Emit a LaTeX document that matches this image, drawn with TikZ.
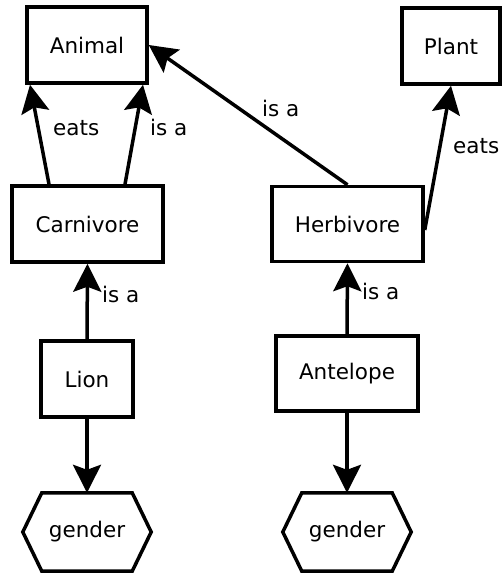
\documentclass[tikz,border=0pt]{standalone}
\usepackage{fontspec}
\setmainfont{DejaVu Sans}
\usetikzlibrary{arrows.meta}
\begin{document}
\begin{tikzpicture}[x=1pt,y=-1pt,
  box/.style={draw,line width=3.5pt,inner sep=0pt,font=\fontsize{21.5}{26}\selectfont},
  hexnode/.style={inner sep=0pt,font=\fontsize{21.5}{26}\selectfont,minimum width=128pt,minimum height=78pt},
  hexline/.style={line width=3.5pt,line join=miter},
  conn/.style={line width=3.5pt,-{Stealth[length=28pt,width=28pt,inset=5pt]}},
  lbl/.style={anchor=base west,inner sep=0pt,font=\fontsize{21.5}{26}\selectfont}]
\useasboundingbox (0,0) rectangle (502,576);
\node[box,minimum width=120pt,minimum height=76pt] (animal) at (87,45) {Animal};
\node[box,minimum width=98pt,minimum height=76pt] (plant) at (451,46) {Plant};
\node[box,minimum width=151pt,minimum height=76pt] (carn) at (87.5,224) {Carnivore};
\node[box,minimum width=151pt,minimum height=75pt] (herb) at (347.5,224) {Herbivore};
\node[box,minimum width=92pt,minimum height=76pt] (lion) at (87,379) {Lion};
\node[box,minimum width=142pt,minimum height=75pt] (ante) at (347,373.5) {Antelope};
\node[hexnode] (g1) at (87,532) {gender};
\node[hexnode] (g2) at (347,532) {gender};
\foreach \g in {g1,g2}{
  \draw[hexline] ([xshift=19pt]\g.north west) -- ([xshift=-19pt]\g.north east) -- (\g.east)
    -- ([xshift=-19pt]\g.south east) -- ([xshift=19pt]\g.south west) -- (\g.west) -- cycle;
}
\draw[conn] ([xshift=-38.5pt]carn.north) -- ([xshift=-57pt]animal.south);
\draw[conn] ([xshift=37.5pt]carn.north) -- ([xshift=56pt]animal.south);
\draw[conn] (herb.north) -- (animal.east);
\draw[conn] ([yshift=-6pt]herb.east) -- (plant.south);
\draw[conn] (lion.north) -- (carn.south);
\draw[conn] (ante.north) -- (herb.south);
\draw[conn] (lion.south) -- (g1.north);
\draw[conn] (ante.south) -- (g2.north);
\node[lbl] (l1) at (53,135) {eats};
\node[lbl] (l2) at (150,135) {is a};
\node[lbl] (l3) at (262,116) {is a};
\node[lbl] (l4) at (453,153) {eats};
\node[lbl] (l5) at (102,302) {is a};
\node[lbl] (l6) at (362,299) {is a};
\end{tikzpicture}
\end{document}
